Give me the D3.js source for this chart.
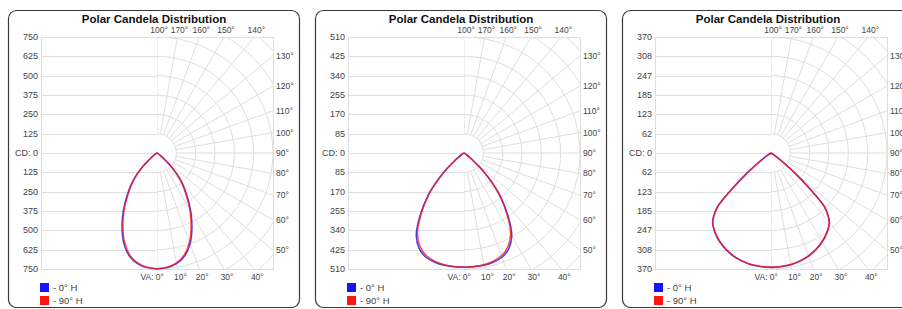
<!DOCTYPE html>
<html lang="en">
<head>
<meta charset="utf-8">
<title>Polar Candela Distribution</title>
<script src="https://cdn.jsdelivr.net/npm/d3@7"></script>
<style>
  body { margin: 0; background: #fff; }
  svg { display: block; }
  .title { font: bold 11.5px "Liberation Sans", Arial, sans-serif; fill: #111; }
  .lbl { font: 8.5px "Liberation Sans", Arial, sans-serif; fill: #444; }
  .ylbl { font: 9px "Liberation Sans", Arial, sans-serif; fill: #444; }
  .grid { stroke: #dedede; stroke-width: 1; fill: none; }
</style>
</head>
<body>
<svg id="chart" width="902" height="309"></svg>
<script>
// ---------------- data ----------------
var angles = [0, 5, 10, 15, 20, 25, 30, 35, 40, 42.5, 45, 47.5, 50, 52.5, 55, 57.5, 60, 70, 80, 90];

// panel 1 (max 750 cd)
var p1Blue = [748, 744, 727, 690, 625, 535, 437, 338, 252, 205, 155, 105, 62, 32, 14, 5, 0, 0, 0, 0];
var p1Red  = [748, 742, 722, 682, 614, 522, 425, 328, 245, 199, 150, 101, 60, 31, 13, 5, 0, 0, 0, 0];
// panel 2 (max 510 cd)
var p2Blue = [502, 502, 501, 497, 488, 465, 420, 338, 250, 200, 148, 100, 58, 30, 13, 4, 0, 0, 0, 0];
var p2Red  = [502, 501, 499, 493, 481, 456, 410, 330, 244, 195, 144, 97, 56, 29, 12, 4, 0, 0, 0, 0];
// panel 3 (max 370 cd)
var p3Blue = [365, 364, 362, 357, 350, 340, 327, 311, 290, 270, 240, 165, 100, 50, 22, 7, 0, 0, 0, 0];
var p3Red  = [364, 363, 361, 356, 349, 339, 326, 310, 289, 268, 238, 163, 99, 49, 21, 7, 0, 0, 0, 0];

var maxima = [750, 510, 370];
var tickLabels = [
  ["750", "625", "500", "375", "250", "125"],
  ["510", "425", "340", "255", "170", "85"],
  ["370", "308", "247", "185", "123", "62"]
];
var topAngles = [180, 170, 160, 150, 140];
var topLabels = ["100°", "170°", "160°", "150°", "140°"];
var rightAngles = [130, 120, 110, 100, 90, 80, 70, 60, 50];
var bottomAngles = [0, 10, 20, 30, 40];
var seriesNames = ["- 0° H", "- 90° H"];
var seriesColors = ["#1414ff", "#ff1414"];

var panels = [
  { x0: 8, blue: p1Blue, red: p1Red },
  { x0: 315, blue: p2Blue, red: p2Red },
  { x0: 622, blue: p3Blue, red: p3Red }
];

// ---------------- drawing ----------------
var svg = d3.select("#chart");
var half = 116, cyAll = 153;

panels.forEach(function (p, i) {
  var max = maxima[i];
  var cx = p.x0 + 149, cy = cyAll;
  var left = cx - half, right = cx + half, top = cy - half, bottom = cy + half;
  var g = svg.append("g");

  // card
  g.append("rect")
    .attr("x", p.x0 + 0.5).attr("y", 10.5)
    .attr("width", 291).attr("height", 297)
    .attr("rx", 8).attr("ry", 8)
    .attr("fill", "#fff").attr("stroke", "#3a3a3a").attr("stroke-width", 1.2);

  g.append("text").attr("class", "title")
    .attr("x", p.x0 + 146).attr("y", 23)
    .attr("text-anchor", "middle")
    .text("Polar Candela Distribution");

  // vertical scale: -max (top) .. max (bottom)
  var y = d3.scaleLinear().domain([-max, max]).range([top, bottom]);
  var r = d3.scaleLinear().domain([0, max]).range([0, half]);
  var step = r(max / 6);

  // plot box
  g.append("rect").attr("class", "grid")
    .attr("x", left + 0.5).attr("y", top + 0.5)
    .attr("width", right - left).attr("height", bottom - top);

  // horizontal grid on left half + labels
  var tickVals = d3.range(-6, 7).map(function (k) { return k * max / 6; });
  g.selectAll("line.h").data(tickVals).enter().append("line")
    .attr("class", "grid")
    .attr("x1", left).attr("x2", cx)
    .attr("y1", function (d) { return Math.round(y(d)) + 0.5; })
    .attr("y2", function (d) { return Math.round(y(d)) + 0.5; });

  g.selectAll("text.yl").data(tickVals).enter().append("text")
    .attr("class", "ylbl")
    .attr("x", left - 3)
    .attr("y", function (d) { return y(d) + 3; })
    .attr("text-anchor", "end")
    .text(function (d, k) {
      var idx = Math.abs(k - 6);
      return idx === 0 ? "CD: 0" : tickLabels[i][6 - idx];
    });

  // polar grid on right half
  var clipId = "clip" + i;
  g.append("clipPath").attr("id", clipId)
    .append("rect").attr("x", cx).attr("y", top)
    .attr("width", right - cx + 1).attr("height", bottom - top + 1);
  var pg = g.append("g").attr("clip-path", "url(#" + clipId + ")");

  pg.selectAll("circle").data(d3.range(1, 9)).enter().append("circle")
    .attr("class", "grid")
    .attr("cx", cx).attr("cy", cy)
    .attr("r", function (k) { return k * step; });

  pg.selectAll("line").data(d3.range(0, 181, 10)).enter().append("line")
    .attr("class", "grid")
    .attr("x1", function (a) { return cx + step * Math.sin(a * Math.PI / 180); })
    .attr("y1", function (a) { return cy + step * Math.cos(a * Math.PI / 180); })
    .attr("x2", function (a) { return cx + 250 * Math.sin(a * Math.PI / 180); })
    .attr("y2", function (a) { return cy + 250 * Math.cos(a * Math.PI / 180); });

  // edge point of a radial line
  function edge(a) {
    var s = Math.sin(a * Math.PI / 180), c = Math.cos(a * Math.PI / 180);
    var t = half / Math.max(Math.abs(s), Math.abs(c));
    return [cx + t * s, cy + t * c];
  }

  g.selectAll("text.tl").data(topAngles).enter().append("text")
    .attr("class", "lbl").attr("text-anchor", "middle")
    .attr("x", function (a) { return edge(a)[0] + 2; })
    .attr("y", top - 4)
    .text(function (a, k) { return topLabels[k]; });

  g.selectAll("text.rl").data(rightAngles).enter().append("text")
    .attr("class", "lbl")
    .attr("x", right + 3)
    .attr("y", function (a) { return edge(a)[1] + 3; })
    .text(function (a) { return a + "°"; });

  g.selectAll("text.bl").data(bottomAngles).enter().append("text")
    .attr("class", "lbl")
    .attr("text-anchor", function (a) { return a === 0 ? "end" : "middle"; })
    .attr("x", function (a) { return a === 0 ? cx + 7 : edge(a)[0] + 3; })
    .attr("y", bottom + 11)
    .text(function (a) { return a === 0 ? "VA: 0°" : a + "°"; });

  // candela curves
  var line = d3.line()
    .x(function (d) { return cx + r(d.v) * Math.sin(d.a * Math.PI / 180); })
    .y(function (d) { return cy + r(d.v) * Math.cos(d.a * Math.PI / 180); })
    .curve(d3.curveCatmullRom.alpha(0.5));

  [p.blue, p.red].forEach(function (vals, s) {
    var pts = [];
    for (var k = angles.length - 1; k >= 0; k--) pts.push({ a: -angles[k], v: vals[k] });
    for (var k2 = 1; k2 < angles.length; k2++) pts.push({ a: angles[k2], v: vals[k2] });
    g.append("path")
      .attr("d", line(pts))
      .attr("fill", "none")
      .attr("stroke", seriesColors[s])
      .attr("stroke-width", 1.5)
      .attr("stroke-opacity", 0.8);
  });

  // legend
  seriesNames.forEach(function (name, s) {
    g.append("rect")
      .attr("x", p.x0 + 32).attr("y", 283 + s * 13)
      .attr("width", 9).attr("height", 9)
      .attr("fill", seriesColors[s]);
    g.append("text").attr("class", "lbl")
      .style("font-size", "9.5px")
      .attr("x", p.x0 + 45).attr("y", 291 + s * 13)
      .text(name);
  });
});
</script>
</body>
</html>
